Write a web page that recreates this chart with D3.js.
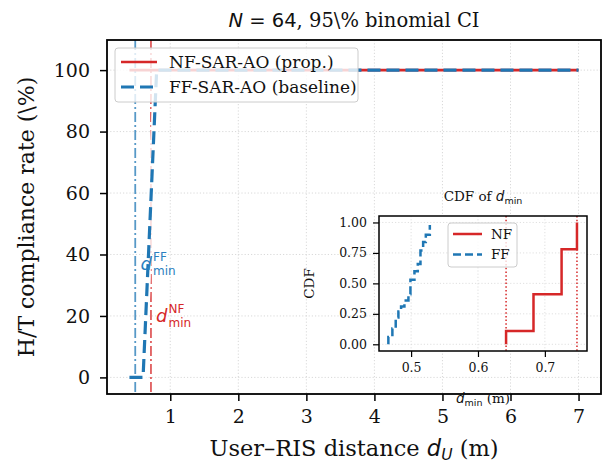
<!DOCTYPE html>
<html>
<head>
<meta charset="utf-8">
<script src="https://cdn.jsdelivr.net/npm/d3@7"></script>
<style>
  body { margin: 0; background: #fff; }
  svg { display: block; }
  .serif { font-family: 'DejaVu Serif', serif; }
  .math { font-family: 'DejaVu Sans', sans-serif; }
</style>
</head>
<body>
<div id="svg_container"></div>
<script>
// sweep of user-RIS distances (m) and H/T compliance (%)
var distances = [0.4, 0.6, 0.8, 1.0, 1.2, 1.4, 1.6, 1.8, 2.0, 2.2, 2.4, 2.6, 2.8, 3.0, 3.2, 3.4, 3.6,
                 3.8, 4.0, 4.2, 4.4, 4.6, 4.8, 5.0, 5.2, 5.4, 5.6, 5.8, 6.0, 6.2, 6.4, 6.6, 6.8, 7.0];
var nf_rate = [100, 100, 100, 100, 100, 100, 100, 100, 100, 100, 100, 100, 100, 100, 100, 100, 100,
               100, 100, 100, 100, 100, 100, 100, 100, 100, 100, 100, 100, 100, 100, 100, 100, 100];
var ff_rate = [0, 0, 100, 100, 100, 100, 100, 100, 100, 100, 100, 100, 100, 100, 100, 100, 100,
               100, 100, 100, 100, 100, 100, 100, 100, 100, 100, 100, 100, 100, 100, 100, 100, 100];
var dmin_nf_mean = 0.716;
var dmin_ff_mean = 0.485;

// empirical CDF of d_min (inset), stepped
var nf_cdf_x = [0.642, 0.642, 0.683, 0.725, 0.748];
var nf_cdf_y = [0, 0.11, 0.41, 0.78, 1.0];
var ff_cdf_x = [0.466, 0.466, 0.472, 0.477, 0.481, 0.485, 0.490, 0.496, 0.499, 0.505, 0.510, 0.514, 0.518, 0.522, 0.528];
var ff_cdf_y = [0, 0.06, 0.13, 0.22, 0.27, 0.31, 0.36, 0.41, 0.53, 0.60, 0.66, 0.77, 0.84, 0.90, 0.98];
var nf_cdf_bounds = [0.642, 0.748];

var x_ticks = [1, 2, 3, 4, 5, 6, 7];
var y_ticks = [0, 20, 40, 60, 80, 100];
var inset_x_ticks = [0.5, 0.6, 0.7];
var inset_y_ticks = [0, 0.25, 0.5, 0.75, 1.0];

var red = '#d62728', blue = '#1f77b4';
var W = 603, H = 464;
var m = {left: 107, right: 601, top: 40, bottom: 394};

var svg = d3.select('#svg_container')
  .append('svg')
    .attr('width', W)
    .attr('height', H);

var x = d3.scaleLinear().domain([0.07, 7.33]).range([m.left, m.right]);
var y = d3.scaleLinear().domain([-5.4, 109.8]).range([m.bottom, m.top]);

// grid
var grid = svg.append('g');
grid.selectAll('.gx').data(x_ticks).enter().append('line')
  .attr('x1', x).attr('x2', x).attr('y1', m.top).attr('y2', m.bottom)
  .attr('stroke', '#cfcfcf').attr('stroke-width', 0.8).attr('stroke-dasharray', '1.2,2');
grid.selectAll('.gy').data(y_ticks).enter().append('line')
  .attr('y1', y).attr('y2', y).attr('x1', m.left).attr('x2', m.right)
  .attr('stroke', '#cfcfcf').attr('stroke-width', 0.8).attr('stroke-dasharray', '1.2,2');

// d_min reference lines
svg.append('line')
  .attr('x1', x(dmin_ff_mean)).attr('x2', x(dmin_ff_mean)).attr('y1', m.top).attr('y2', m.bottom)
  .attr('stroke', blue).attr('stroke-opacity', 0.75).attr('stroke-width', 1.8)
  .attr('stroke-dasharray', '10,3,2,3');
svg.append('line')
  .attr('x1', x(dmin_nf_mean)).attr('x2', x(dmin_nf_mean)).attr('y1', m.top).attr('y2', m.bottom)
  .attr('stroke', red).attr('stroke-opacity', 0.75).attr('stroke-width', 1.8)
  .attr('stroke-dasharray', '10,3,2,3');

var line_main = d3.line()
  .x(function(d) { return x(d[0]); })
  .y(function(d) { return y(d[1]); });

var nf_pts = distances.map(function(d, i) { return [d, nf_rate[i]]; });
var ff_pts = distances.map(function(d, i) { return [d, ff_rate[i]]; });

// soft halo under the FF curve, then the curves
svg.append('path').datum(ff_pts)
  .attr('d', line_main).attr('fill', 'none')
  .attr('stroke', '#fff').attr('stroke-opacity', 0.8).attr('stroke-width', 7);
svg.append('path').datum(nf_pts)
  .attr('d', line_main).attr('fill', 'none')
  .attr('stroke', red).attr('stroke-width', 2.6);
svg.append('path').datum(ff_pts)
  .attr('d', line_main).attr('fill', 'none')
  .attr('stroke', blue).attr('stroke-width', 3.2).attr('stroke-dasharray', '13,6');

// d_min annotations
function mathLabel(g, px, py, sup, color) {
  g.append('text').attr('class', 'math').attr('x', px).attr('y', py)
    .attr('font-size', 18).attr('font-style', 'italic').attr('fill', color).text('d');
  g.append('text').attr('class', 'math').attr('x', px + 12.5).attr('y', py - 9)
    .attr('font-size', 12).attr('fill', color).text(sup);
  g.append('text').attr('class', 'math').attr('x', px + 12.5).attr('y', py + 5)
    .attr('font-size', 12).attr('fill', color).text('min');
}
mathLabel(svg.append('g'), 140.5, 270, 'FF', '#2a7fc0');
mathLabel(svg.append('g'), 156, 322, 'NF', red);

// main frame and axes
svg.append('g')
  .attr('class', 'serif')
  .attr('transform', 'translate(0,' + m.bottom + ')')
  .call(d3.axisBottom(x).tickValues(x_ticks).tickFormat(d3.format('d')).tickSize(7).tickPadding(9))
  .call(function(g) { g.select('.domain').remove(); })
  .call(function(g) { g.selectAll('line').attr('stroke-width', 1.5); })
  .call(function(g) { g.selectAll('text').attr('font-size', 19).attr('fill', '#111'); });

svg.append('g')
  .attr('class', 'serif')
  .attr('transform', 'translate(' + m.left + ',0)')
  .call(d3.axisLeft(y).tickValues(y_ticks).tickFormat(d3.format('d')).tickSize(7).tickPadding(10))
  .call(function(g) { g.select('.domain').remove(); })
  .call(function(g) { g.selectAll('line').attr('stroke-width', 1.5); })
  .call(function(g) { g.selectAll('text').attr('font-size', 19).attr('fill', '#111'); });

svg.append('rect')
  .attr('x', m.left).attr('y', m.top)
  .attr('width', m.right - m.left).attr('height', m.bottom - m.top)
  .attr('fill', 'none').attr('stroke', '#000').attr('stroke-width', 1.8);

// title
var title = svg.append('text')
  .attr('x', (m.left + m.right) / 2).attr('y', 27)
  .attr('text-anchor', 'middle').attr('font-size', 19.5).attr('fill', '#111');
title.append('tspan').attr('class', 'math').attr('font-style', 'italic').text('N');
title.append('tspan').attr('class', 'math').text(' = 64');
title.append('tspan').attr('class', 'serif').text(', 95\\% binomial CI');

// x label
var xl = svg.append('text')
  .attr('x', (m.left + m.right) / 2).attr('y', 456)
  .attr('text-anchor', 'middle').attr('font-size', 22.5).attr('fill', '#111');
xl.append('tspan').attr('class', 'serif').text('User\u2013RIS distance ');
xl.append('tspan').attr('class', 'math').attr('font-style', 'italic').text('d');
xl.append('tspan').attr('class', 'math').attr('font-style', 'italic').attr('font-size', 15.5).attr('dy', 4).text('U');
xl.append('tspan').attr('class', 'serif').attr('dy', -4).text(' (m)');

// y label
svg.append('text')
  .attr('class', 'serif')
  .attr('transform', 'translate(34,' + ((m.top + m.bottom) / 2) + ') rotate(-90)')
  .attr('text-anchor', 'middle').attr('font-size', 22).attr('fill', '#111')
  .text('H/T compliance rate (\\%)');

// legend
var legend = svg.append('g').attr('class', 'serif');
legend.append('rect')
  .attr('x', 115).attr('y', 48).attr('width', 243).attr('height', 54).attr('rx', 3)
  .attr('fill', '#fff').attr('fill-opacity', 0.8).attr('stroke', '#ccc').attr('stroke-width', 1);
var legend_items = [
  {label: 'NF-SAR-AO (prop.)', color: red, dash: null, w: 2.6},
  {label: 'FF-SAR-AO (baseline)', color: blue, dash: '13,6', w: 3.2}
];
var li = legend.selectAll('.li').data(legend_items).enter().append('g')
  .attr('transform', function(d, i) { return 'translate(0,' + (62 + i * 25) + ')'; });
li.append('line')
  .attr('x1', 121).attr('x2', 157)
  .attr('stroke', function(d) { return d.color; })
  .attr('stroke-width', function(d) { return d.w; })
  .attr('stroke-dasharray', function(d) { return d.dash; });
li.append('text')
  .attr('x', 169).attr('dy', '0.35em').attr('font-size', 17).attr('fill', '#111')
  .text(function(d) { return d.label; });

// ---- inset: CDF of d_min ----
var im = {left: 379, right: 587, top: 216, bottom: 351};
var xi = d3.scaleLinear().domain([0.452, 0.763]).range([im.left, im.right]);
var yi = d3.scaleLinear().domain([-0.055, 1.053]).range([im.bottom, im.top]);

var inset = svg.append('g');
inset.append('rect')
  .attr('x', im.left).attr('y', im.top)
  .attr('width', im.right - im.left).attr('height', im.bottom - im.top)
  .attr('fill', '#fff');

inset.selectAll('.igx').data(inset_x_ticks).enter().append('line')
  .attr('x1', xi).attr('x2', xi).attr('y1', im.top).attr('y2', im.bottom)
  .attr('stroke', '#d8d8d8').attr('stroke-width', 0.8).attr('stroke-dasharray', '1.2,2');
inset.selectAll('.igy').data(inset_y_ticks).enter().append('line')
  .attr('y1', yi).attr('y2', yi).attr('x1', im.left).attr('x2', im.right)
  .attr('stroke', '#d8d8d8').attr('stroke-width', 0.8).attr('stroke-dasharray', '1.2,2');

inset.selectAll('.bound').data(nf_cdf_bounds).enter().append('line')
  .attr('x1', xi).attr('x2', xi).attr('y1', im.top).attr('y2', im.bottom)
  .attr('stroke', red).attr('stroke-width', 1.5).attr('stroke-dasharray', '1.5,2.2');

var line_cdf = d3.line()
  .x(function(d) { return xi(d[0]); })
  .y(function(d) { return yi(d[1]); })
  .curve(d3.curveStepAfter);

inset.append('path')
  .datum(ff_cdf_x.map(function(d, i) { return [d, ff_cdf_y[i]]; }))
  .attr('d', line_cdf).attr('fill', 'none')
  .attr('stroke', blue).attr('stroke-width', 2.5).attr('stroke-dasharray', '8,4');
inset.append('path')
  .datum(nf_cdf_x.map(function(d, i) { return [d, nf_cdf_y[i]]; }))
  .attr('d', line_cdf).attr('fill', 'none')
  .attr('stroke', red).attr('stroke-width', 2.5);

inset.append('g')
  .attr('class', 'serif')
  .attr('transform', 'translate(0,' + im.bottom + ')')
  .call(d3.axisBottom(xi).tickValues(inset_x_ticks).tickFormat(d3.format('.1f')).tickSize(6).tickPadding(6))
  .call(function(g) { g.select('.domain').remove(); })
  .call(function(g) { g.selectAll('line').attr('stroke-width', 1.2); })
  .call(function(g) { g.selectAll('text').attr('font-size', 12.5).attr('fill', '#111'); });
inset.append('g')
  .attr('class', 'serif')
  .attr('transform', 'translate(' + im.left + ',0)')
  .call(d3.axisLeft(yi).tickValues(inset_y_ticks).tickFormat(d3.format('.2f')).tickSize(6).tickPadding(6))
  .call(function(g) { g.select('.domain').remove(); })
  .call(function(g) { g.selectAll('line').attr('stroke-width', 1.2); })
  .call(function(g) { g.selectAll('text').attr('font-size', 12.5).attr('fill', '#111'); });

inset.append('rect')
  .attr('x', im.left).attr('y', im.top)
  .attr('width', im.right - im.left).attr('height', im.bottom - im.top)
  .attr('fill', 'none').attr('stroke', '#000').attr('stroke-width', 1.5);

// inset title
var it = inset.append('text')
  .attr('x', (im.left + im.right) / 2).attr('y', 201)
  .attr('text-anchor', 'middle').attr('font-size', 13.5).attr('fill', '#111');
it.append('tspan').attr('class', 'serif').text('CDF of ');
it.append('tspan').attr('class', 'math').attr('font-style', 'italic').text('d');
it.append('tspan').attr('class', 'math').attr('font-size', 9.5).attr('dy', 3).text('min');

// inset x label
var ixl = inset.append('text')
  .attr('x', (im.left + im.right) / 2).attr('y', 403)
  .attr('text-anchor', 'middle').attr('font-size', 13.5).attr('fill', '#111');
ixl.append('tspan').attr('class', 'math').attr('font-style', 'italic').text('d');
ixl.append('tspan').attr('class', 'math').attr('font-size', 9.5).attr('dy', 3).text('min');
ixl.append('tspan').attr('class', 'serif').attr('dy', -3).text(' (m)');

// inset y label
inset.append('text')
  .attr('class', 'serif')
  .attr('transform', 'translate(314,' + ((im.top + im.bottom) / 2) + ') rotate(-90)')
  .attr('text-anchor', 'middle').attr('font-size', 13.5).attr('fill', '#111')
  .text('CDF');

// inset legend
var ileg = inset.append('g').attr('class', 'serif');
ileg.append('rect')
  .attr('x', 448).attr('y', 223).attr('width', 69).attr('height', 44).attr('rx', 3)
  .attr('fill', '#fff').attr('fill-opacity', 0.8).attr('stroke', '#ccc').attr('stroke-width', 1);
var ileg_items = [
  {label: 'NF', color: red, dash: null},
  {label: 'FF', color: blue, dash: '8,4'}
];
var ili = ileg.selectAll('.ili').data(ileg_items).enter().append('g')
  .attr('transform', function(d, i) { return 'translate(0,' + (234 + i * 20.5) + ')'; });
ili.append('line')
  .attr('x1', 453).attr('x2', 482)
  .attr('stroke', function(d) { return d.color; })
  .attr('stroke-width', 2.5)
  .attr('stroke-dasharray', function(d) { return d.dash; });
ili.append('text')
  .attr('x', 491).attr('dy', '0.35em').attr('font-size', 13.5).attr('fill', '#111')
  .text(function(d) { return d.label; });
</script>
</body>
</html>
